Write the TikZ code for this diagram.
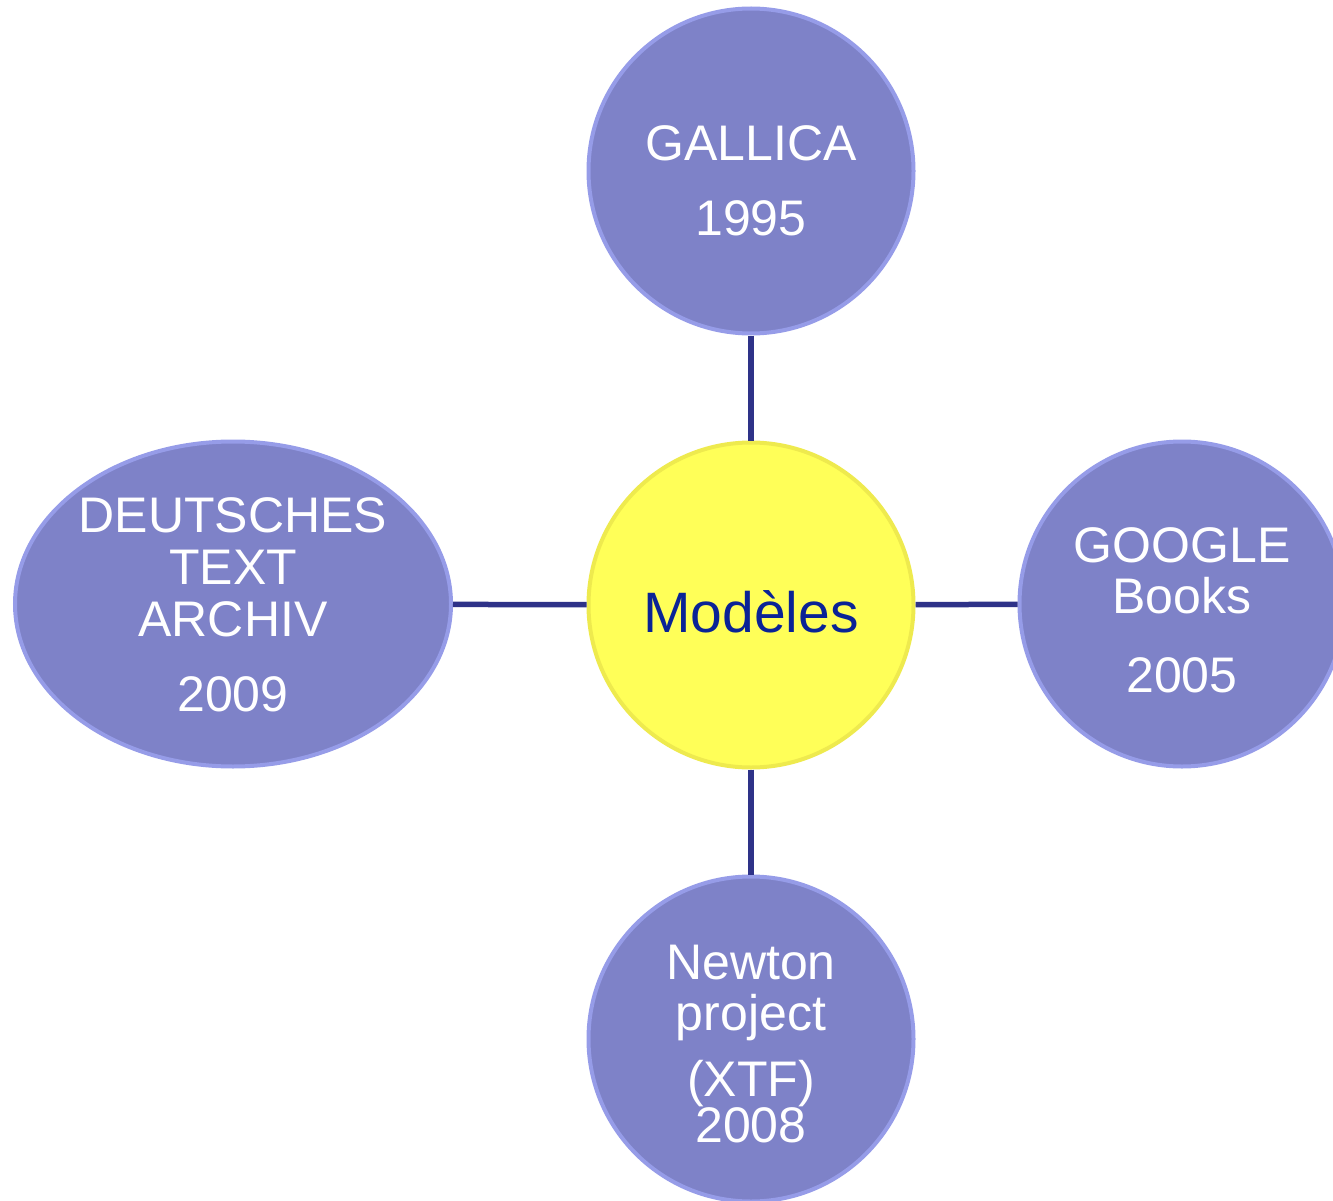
\documentclass[tikz,border=0pt]{standalone}
\usepackage{fontspec}
\setmainfont{Liberation Sans}
\usetikzlibrary{shapes.geometric}
\definecolor{bub}{RGB}{126,130,200}
\definecolor{bubrim}{RGB}{150,156,232}
\definecolor{yel}{RGB}{255,255,88}
\definecolor{yelrim}{RGB}{238,234,78}
\definecolor{navy}{RGB}{46,50,136}
\definecolor{modtext}{RGB}{10,35,150}
\begin{document}
\begin{tikzpicture}[x=1pt,y=-1pt,
  bubble/.style={circle, fill=bub, draw=bubrim, line width=4pt, minimum size=325pt, inner sep=0pt},
  bubbleell/.style={ellipse, fill=bub, draw=bubrim, line width=4pt, minimum width=436pt, minimum height=325pt, inner sep=0pt},
  centre/.style={circle, fill=yel, draw=yelrim, line width=4pt, minimum size=325pt, inner sep=0pt},
  txt/.style={text=white, align=center, inner sep=0pt, anchor=north, font=\fontsize{50}{52}\selectfont},
  conn/.style={draw=navy, line width=5.5pt}]
\useasboundingbox (0,0) rectangle (1333,1201);
\clip (0,0) rectangle (1333,1201);
% shapes
\node[centre] (mod) at (751,605) {};
\node[bubble] (gal) at (751,171) {};
\node[bubble] (goo) at (1182,604) {};
\node[bubble] (new) at (751,1039) {};
\node[bubbleell] (dta) at (233,604) {};
% connectors
\draw[conn] (gal) -- (mod);
\draw[conn] (dta) -- (mod);
\draw[conn] (mod) -- (goo);
\draw[conn] (mod) -- (new);
% texts
\node[font=\fontsize{57}{60}\selectfont, text=modtext, anchor=base, inner sep=0pt] (modT) at (751,632) {Modèles};
\node[txt] (galT) at (751,120) {\rule{0pt}{40pt}GALLICA\\[23pt]1995};
\node[txt] (dtaT) at (233,492) {\rule{0pt}{40pt}DEUTSCHES\\TEXT\\ARCHIV\\[23pt]2009};
\node[txt] (gooT) at (1182,522) {\rule{0pt}{40pt}GOOGLE\\[-1pt]Books\\[27pt]2005};
\node[txt] (newT) at (751,939) {\rule{0pt}{40pt}Newton\\[-1pt]project\\[14pt](XTF)\\[-6pt]2008};
\end{tikzpicture}
\end{document}
